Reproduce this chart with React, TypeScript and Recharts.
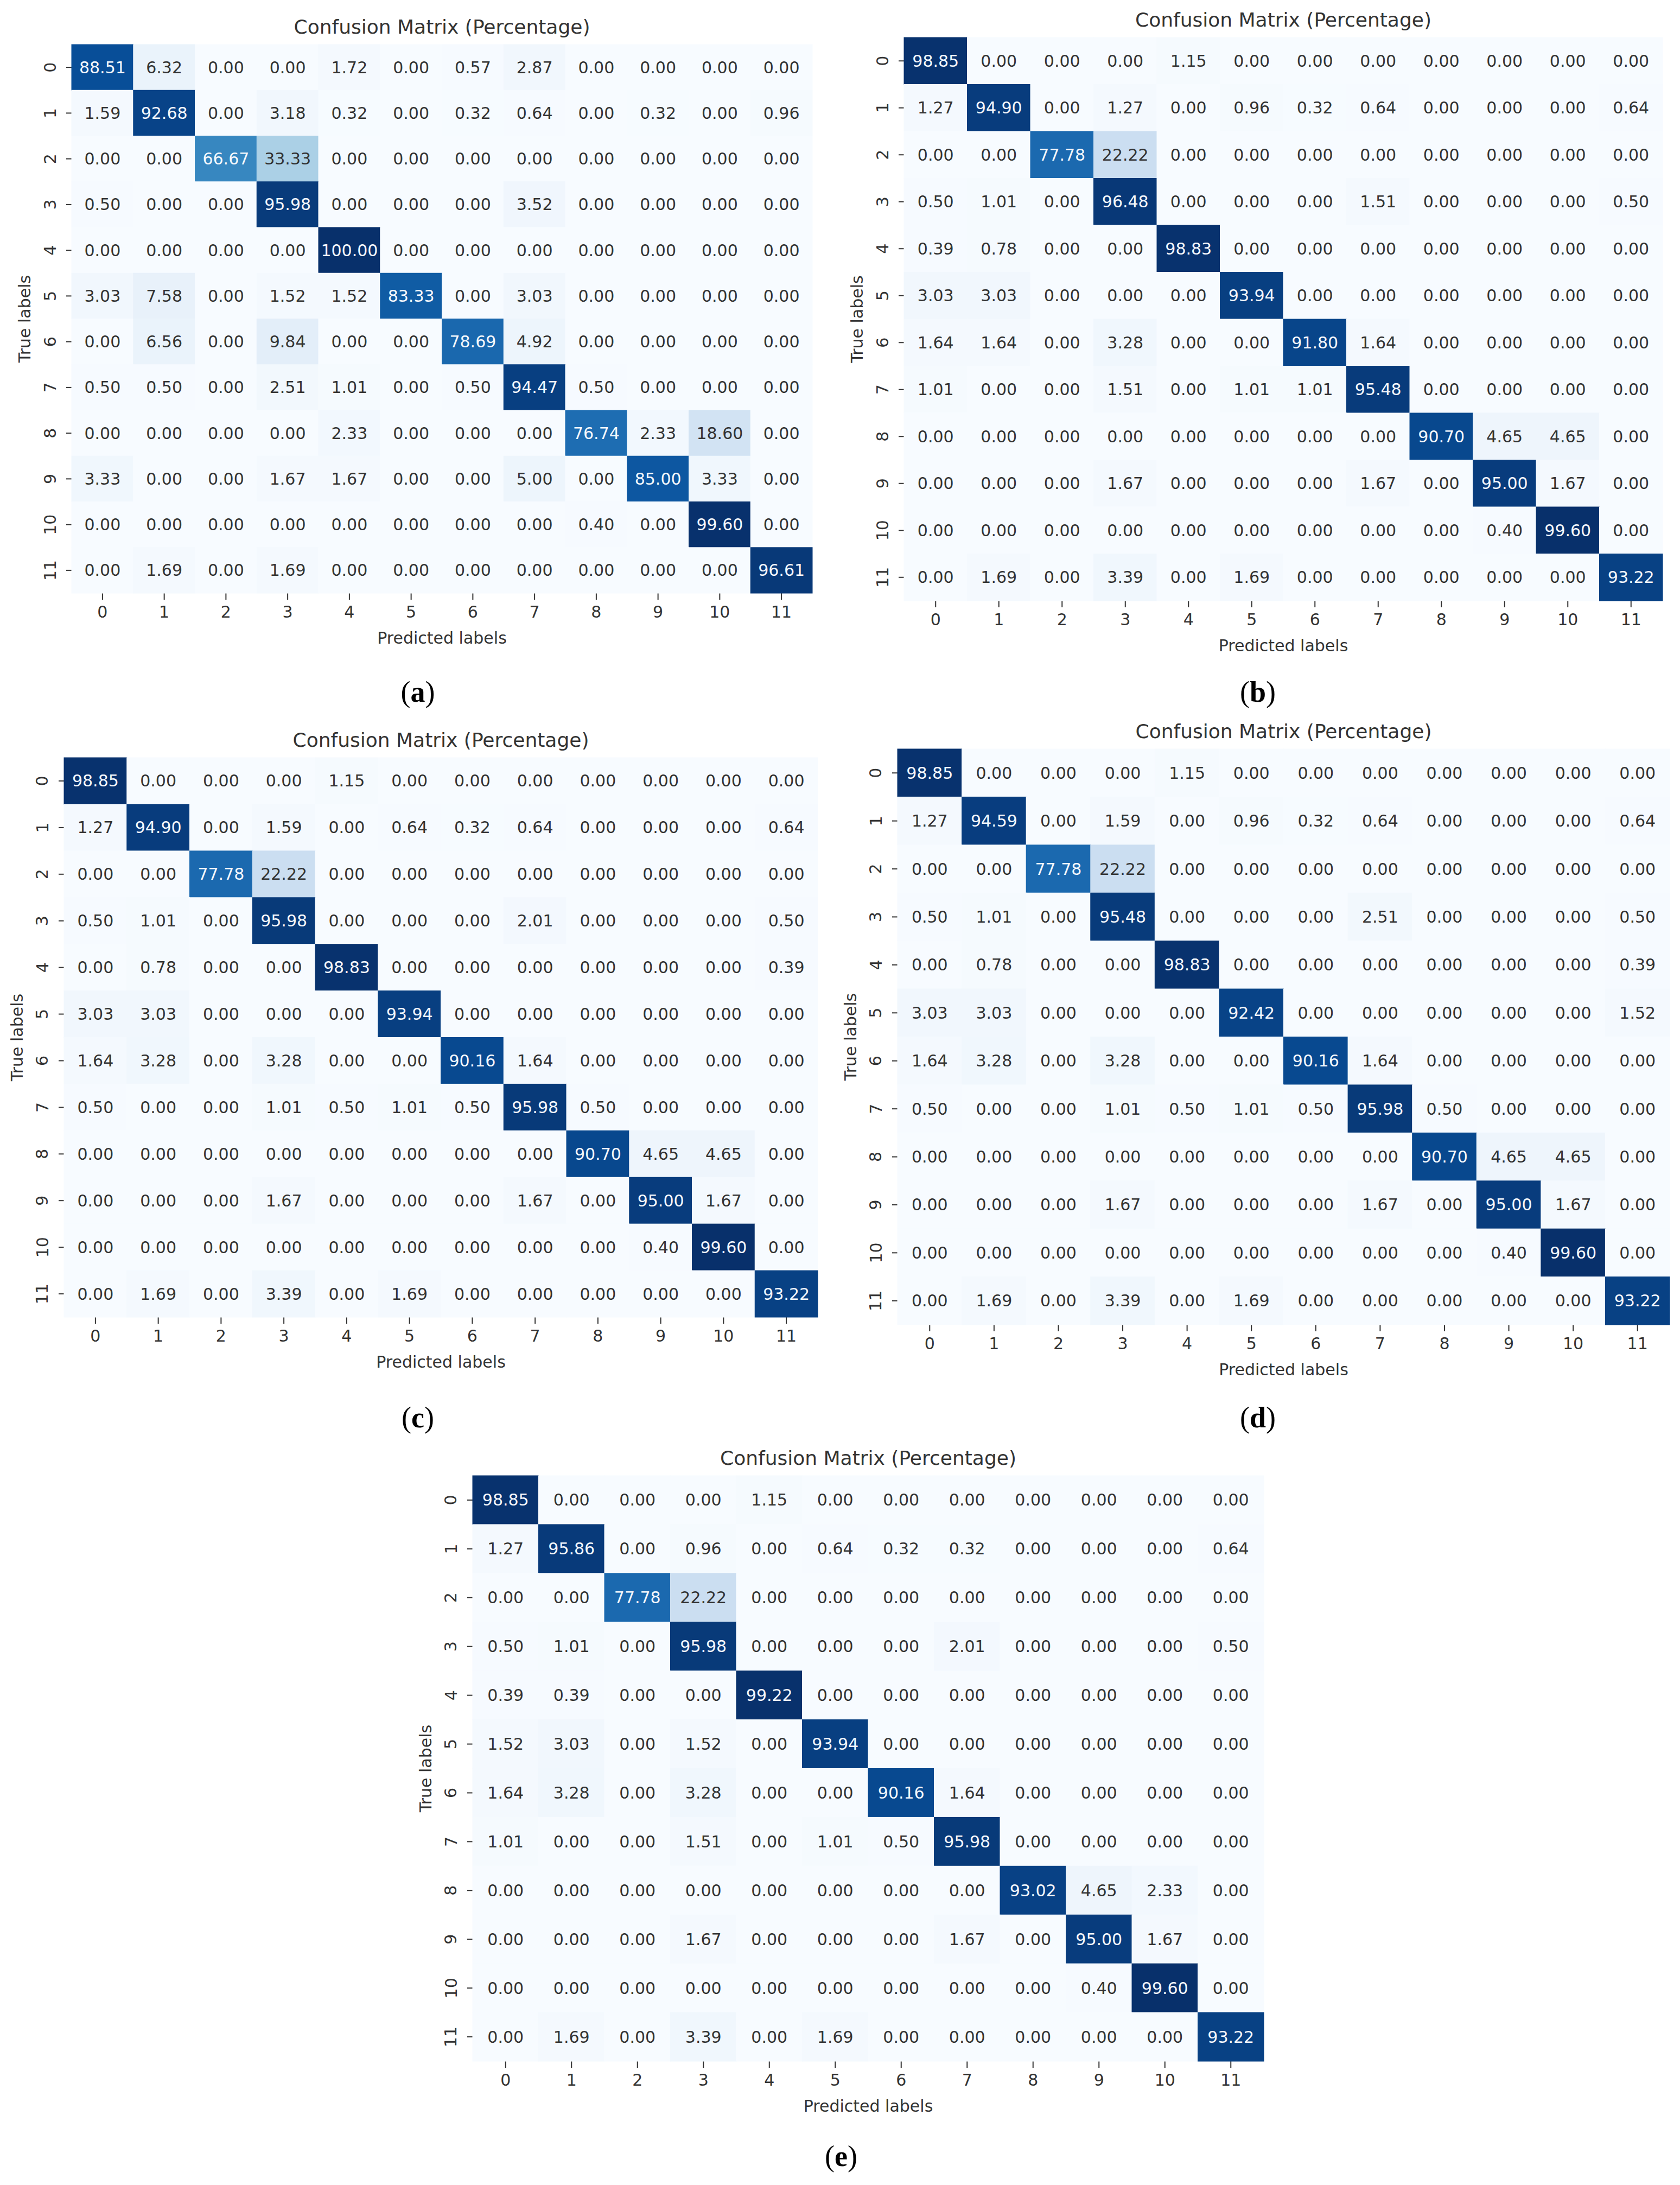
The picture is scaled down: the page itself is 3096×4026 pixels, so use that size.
import { Label, Scatter, ScatterChart, XAxis, YAxis } from "recharts";

const classLabels = [0, 1, 2, 3, 4, 5, 6, 7, 8, 9, 10, 11];
const chartTitle = "Confusion Matrix (Percentage)";

const matrixA = [
  [88.51, 6.32, 0, 0, 1.72, 0, 0.57, 2.87, 0, 0, 0, 0],
  [1.59, 92.68, 0, 3.18, 0.32, 0, 0.32, 0.64, 0, 0.32, 0, 0.96],
  [0, 0, 66.67, 33.33, 0, 0, 0, 0, 0, 0, 0, 0],
  [0.5, 0, 0, 95.98, 0, 0, 0, 3.52, 0, 0, 0, 0],
  [0, 0, 0, 0, 100, 0, 0, 0, 0, 0, 0, 0],
  [3.03, 7.58, 0, 1.52, 1.52, 83.33, 0, 3.03, 0, 0, 0, 0],
  [0, 6.56, 0, 9.84, 0, 0, 78.69, 4.92, 0, 0, 0, 0],
  [0.5, 0.5, 0, 2.51, 1.01, 0, 0.5, 94.47, 0.5, 0, 0, 0],
  [0, 0, 0, 0, 2.33, 0, 0, 0, 76.74, 2.33, 18.6, 0],
  [3.33, 0, 0, 1.67, 1.67, 0, 0, 5.0, 0, 85.0, 3.33, 0],
  [0, 0, 0, 0, 0, 0, 0, 0, 0.4, 0, 99.6, 0],
  [0, 1.69, 0, 1.69, 0, 0, 0, 0, 0, 0, 0, 96.61],
];

const matrixB = [
  [98.85, 0, 0, 0, 1.15, 0, 0, 0, 0, 0, 0, 0],
  [1.27, 94.9, 0, 1.27, 0, 0.96, 0.32, 0.64, 0, 0, 0, 0.64],
  [0, 0, 77.78, 22.22, 0, 0, 0, 0, 0, 0, 0, 0],
  [0.5, 1.01, 0, 96.48, 0, 0, 0, 1.51, 0, 0, 0, 0.5],
  [0.39, 0.78, 0, 0, 98.83, 0, 0, 0, 0, 0, 0, 0],
  [3.03, 3.03, 0, 0, 0, 93.94, 0, 0, 0, 0, 0, 0],
  [1.64, 1.64, 0, 3.28, 0, 0, 91.8, 1.64, 0, 0, 0, 0],
  [1.01, 0, 0, 1.51, 0, 1.01, 1.01, 95.48, 0, 0, 0, 0],
  [0, 0, 0, 0, 0, 0, 0, 0, 90.7, 4.65, 4.65, 0],
  [0, 0, 0, 1.67, 0, 0, 0, 1.67, 0, 95.0, 1.67, 0],
  [0, 0, 0, 0, 0, 0, 0, 0, 0, 0.4, 99.6, 0],
  [0, 1.69, 0, 3.39, 0, 1.69, 0, 0, 0, 0, 0, 93.22],
];

const matrixC = [
  [98.85, 0, 0, 0, 1.15, 0, 0, 0, 0, 0, 0, 0],
  [1.27, 94.9, 0, 1.59, 0, 0.64, 0.32, 0.64, 0, 0, 0, 0.64],
  [0, 0, 77.78, 22.22, 0, 0, 0, 0, 0, 0, 0, 0],
  [0.5, 1.01, 0, 95.98, 0, 0, 0, 2.01, 0, 0, 0, 0.5],
  [0, 0.78, 0, 0, 98.83, 0, 0, 0, 0, 0, 0, 0.39],
  [3.03, 3.03, 0, 0, 0, 93.94, 0, 0, 0, 0, 0, 0],
  [1.64, 3.28, 0, 3.28, 0, 0, 90.16, 1.64, 0, 0, 0, 0],
  [0.5, 0, 0, 1.01, 0.5, 1.01, 0.5, 95.98, 0.5, 0, 0, 0],
  [0, 0, 0, 0, 0, 0, 0, 0, 90.7, 4.65, 4.65, 0],
  [0, 0, 0, 1.67, 0, 0, 0, 1.67, 0, 95.0, 1.67, 0],
  [0, 0, 0, 0, 0, 0, 0, 0, 0, 0.4, 99.6, 0],
  [0, 1.69, 0, 3.39, 0, 1.69, 0, 0, 0, 0, 0, 93.22],
];

const matrixD = [
  [98.85, 0, 0, 0, 1.15, 0, 0, 0, 0, 0, 0, 0],
  [1.27, 94.59, 0, 1.59, 0, 0.96, 0.32, 0.64, 0, 0, 0, 0.64],
  [0, 0, 77.78, 22.22, 0, 0, 0, 0, 0, 0, 0, 0],
  [0.5, 1.01, 0, 95.48, 0, 0, 0, 2.51, 0, 0, 0, 0.5],
  [0, 0.78, 0, 0, 98.83, 0, 0, 0, 0, 0, 0, 0.39],
  [3.03, 3.03, 0, 0, 0, 92.42, 0, 0, 0, 0, 0, 1.52],
  [1.64, 3.28, 0, 3.28, 0, 0, 90.16, 1.64, 0, 0, 0, 0],
  [0.5, 0, 0, 1.01, 0.5, 1.01, 0.5, 95.98, 0.5, 0, 0, 0],
  [0, 0, 0, 0, 0, 0, 0, 0, 90.7, 4.65, 4.65, 0],
  [0, 0, 0, 1.67, 0, 0, 0, 1.67, 0, 95.0, 1.67, 0],
  [0, 0, 0, 0, 0, 0, 0, 0, 0, 0.4, 99.6, 0],
  [0, 1.69, 0, 3.39, 0, 1.69, 0, 0, 0, 0, 0, 93.22],
];

const matrixE = [
  [98.85, 0, 0, 0, 1.15, 0, 0, 0, 0, 0, 0, 0],
  [1.27, 95.86, 0, 0.96, 0, 0.64, 0.32, 0.32, 0, 0, 0, 0.64],
  [0, 0, 77.78, 22.22, 0, 0, 0, 0, 0, 0, 0, 0],
  [0.5, 1.01, 0, 95.98, 0, 0, 0, 2.01, 0, 0, 0, 0.5],
  [0.39, 0.39, 0, 0, 99.22, 0, 0, 0, 0, 0, 0, 0],
  [1.52, 3.03, 0, 1.52, 0, 93.94, 0, 0, 0, 0, 0, 0],
  [1.64, 3.28, 0, 3.28, 0, 0, 90.16, 1.64, 0, 0, 0, 0],
  [1.01, 0, 0, 1.51, 0, 1.01, 0.5, 95.98, 0, 0, 0, 0],
  [0, 0, 0, 0, 0, 0, 0, 0, 93.02, 4.65, 2.33, 0],
  [0, 0, 0, 1.67, 0, 0, 0, 1.67, 0, 95.0, 1.67, 0],
  [0, 0, 0, 0, 0, 0, 0, 0, 0, 0.4, 99.6, 0],
  [0, 1.69, 0, 3.39, 0, 1.69, 0, 0, 0, 0, 0, 93.22],
];

// matplotlib "Blues"
const BLUES = [
  "#f7fbff", "#deebf7", "#c6dbef", "#9ecae1", "#6baed6",
  "#4292c6", "#2171b5", "#08519c", "#08306b",
];

const FONT = "'DejaVu Sans', sans-serif";
const DARK = "#333333";

const YW = 110; // y axis band
const XH = 120; // x axis band
const PAD = 10;

// where each matrix sits on the page
const panels = [
  { key: "a", data: matrixA, left: 132, top: 82, width: 1365, height: 1011, capX: 770, capY: 1275 },
  { key: "b", data: matrixB, left: 1666, top: 69, width: 1398, height: 1038, capX: 2318, capY: 1275 },
  { key: "c", data: matrixC, left: 118, top: 1396, width: 1389, height: 1031, capX: 770, capY: 2612 },
  { key: "d", data: matrixD, left: 1654, top: 1380, width: 1423, height: 1061, capX: 2318, capY: 2612 },
  { key: "e", data: matrixE, left: 871, top: 2719, width: 1458, height: 1079, capX: 1550, capY: 3973 },
];

function hexToRgb(h: string) {
  return [1, 3, 5].map((i) => parseInt(h.slice(i, i + 2), 16));
}

function blues(t: number) {
  const p = Math.max(0, Math.min(1, t)) * 8;
  const i = Math.min(7, Math.floor(p));
  const f = p - i;
  const a = hexToRgb(BLUES[i]);
  const b = hexToRgb(BLUES[i + 1]);
  return a.map((c, k) => Math.round(c + (b[k] - c) * f));
}

function luminance(rgb: number[]) {
  const lin = rgb.map((c) => {
    const s = c / 255;
    return s <= 0.03928 ? s / 12.92 : Math.pow((s + 0.055) / 1.055, 2.4);
  });
  return 0.2126 * lin[0] + 0.7152 * lin[1] + 0.0722 * lin[2];
}

function HeatCell(props: any) {
  const { cx, cy, payload, cw, ch, vmax } = props;
  if (cx == null || cy == null) return null;
  const rgb = blues(payload.v / vmax);
  const fill = `rgb(${rgb[0]},${rgb[1]},${rgb[2]})`;
  const textFill = luminance(rgb) > 0.408 ? DARK : "#f4f7fc";
  return (
    <g>
      <rect x={cx - cw / 2 - 0.5} y={cy - ch / 2 - 0.5} width={cw + 1} height={ch + 1} fill={fill} />
      <text
        x={cx}
        y={cy}
        textAnchor="middle"
        dominantBaseline="central"
        fontSize={30}
        fontFamily={FONT}
        fill={textFill}
      >
        {payload.v.toFixed(2)}
      </text>
    </g>
  );
}

function YTick(props: any) {
  const { x, y, payload } = props;
  return (
    <text
      x={x}
      y={y}
      transform={`rotate(-90 ${x} ${y})`}
      textAnchor="middle"
      dominantBaseline="central"
      fontSize={30}
      fontFamily={FONT}
      fill={DARK}
    >
      {payload.value}
    </text>
  );
}

function Panel({ panel }: { panel: (typeof panels)[number] }) {
  const { data, left, top, width, height, capX, capY, key } = panel;
  const points = data.flatMap((row, r) => row.map((v, c) => ({ x: classLabels[c], y: classLabels[r], v })));
  const vmax = Math.max(...data.flat());
  const cw = width / classLabels.length;
  const ch = height / classLabels.length;

  return (
    <>
      <div
        style={{
          position: "absolute",
          left: left + width / 2,
          top: top - 33,
          transform: "translate(-50%, -50%)",
          fontFamily: FONT,
          fontSize: 36,
          color: DARK,
          whiteSpace: "nowrap",
        }}
      >
        {chartTitle}
      </div>
      <div style={{ position: "absolute", left: left - YW, top: top - PAD }}>
        <ScatterChart
          width={width + YW + PAD}
          height={height + XH + PAD}
          margin={{ top: PAD, right: PAD, bottom: 0, left: 0 }}
        >
          <XAxis
            type="number"
            dataKey="x"
            domain={[-0.5, 11.5]}
            ticks={classLabels}
            interval={0}
            height={XH}
            axisLine={false}
            tickSize={12}
            tickMargin={12}
            tickLine={{ stroke: DARK, strokeWidth: 2 }}
            tick={{ fill: DARK, fontSize: 30, fontFamily: FONT }}
          >
            <Label
              content={(p: any) => {
                const vb = p.viewBox || {};
                return (
                  <text
                    x={vb.x + vb.width / 2}
                    y={vb.y + 82}
                    textAnchor="middle"
                    dominantBaseline="central"
                    fontSize={30}
                    fontFamily={FONT}
                    fill={DARK}
                  >
                    Predicted labels
                  </text>
                );
              }}
            />
          </XAxis>
          <YAxis
            type="number"
            dataKey="y"
            domain={[-0.5, 11.5]}
            ticks={classLabels}
            interval={0}
            reversed
            width={YW}
            axisLine={false}
            tickSize={10}
            tickMargin={30}
            tickLine={{ stroke: DARK, strokeWidth: 2 }}
            tick={<YTick />}
          >
            <Label
              content={(p: any) => {
                const vb = p.viewBox || {};
                const x = vb.x + vb.width - 87;
                const y = vb.y + vb.height / 2;
                return (
                  <text
                    x={x}
                    y={y}
                    transform={`rotate(-90 ${x} ${y})`}
                    textAnchor="middle"
                    dominantBaseline="central"
                    fontSize={30}
                    fontFamily={FONT}
                    fill={DARK}
                  >
                    True labels
                  </text>
                );
              }}
            />
          </YAxis>
          <Scatter
            data={points}
            isAnimationActive={false}
            shape={(p: any) => <HeatCell {...p} cw={cw} ch={ch} vmax={vmax} />}
          />
        </ScatterChart>
      </div>
      <div
        style={{
          position: "absolute",
          left: capX,
          top: capY,
          transform: "translate(-50%, -50%)",
          fontFamily: "'Liberation Serif', 'Times New Roman', serif",
          fontSize: 54,
          color: "#000",
        }}
      >
        (<b>{key}</b>)
      </div>
    </>
  );
}

export default function App() {
  return (
    <div
      style={{
        position: "absolute",
        left: 0,
        top: 0,
        width: 3096,
        height: 4026,
        background: "#fff",
        overflow: "hidden",
      }}
    >
      {panels.map((p) => (
        <Panel key={p.key} panel={p} />
      ))}
    </div>
  );
}
